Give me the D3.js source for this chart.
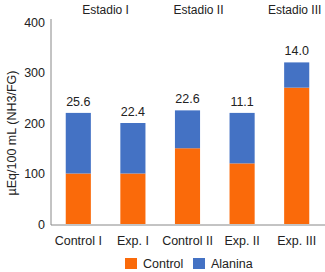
<!DOCTYPE html>
<html>
<head>
<meta charset="utf-8">
<script src="https://cdn.jsdelivr.net/npm/d3@7"></script>
<style>
	body { margin: 0; background: #fff; }
	text { font-family: "Liberation Sans", Arial, sans-serif; fill: #222; }
</style>
</head>
<body>
<div id="chart"></div>
<script>
var categories = ["Control I", "Exp. I", "Control II", "Exp. II", "Exp. III"];
var controlValues = [100, 100, 150, 120, 270];
var alaninaValues = [120, 100, 75, 100, 50];
var topLabels = ["25.6", "22.4", "22.6", "11.1", "14.0"];
var stages = ["Estadio I", "Estadio II", "Estadio III"];
var yTicks = [0, 100, 200, 300, 400];
var seriesNames = ["Control", "Alanina"];
var colors = ["#FA6A0A", "#4472C4"];

var width = 325, height = 272;
var svg = d3.select("#chart").append("svg")
	.attr("width", width)
	.attr("height", height);

var x = d3.scaleBand()
	.domain(categories)
	.range([51, 324])
	.paddingInner(0.54)
	.paddingOuter(0.27);

var y = d3.scaleLinear()
	.domain([0, 400])
	.range([224, 22]);

var rows = categories.map(function(c, i) {
	return { cat: c, Control: controlValues[i], Alanina: alaninaValues[i] };
});
var stack = d3.stack().keys(seriesNames)(rows);

// y axis
var yAxis = svg.append("g")
	.attr("transform", "translate(51,0)")
	.call(d3.axisLeft(y).tickValues(yTicks).tickSize(0).tickPadding(6));
yAxis.select(".domain").attr("stroke", "#888").attr("d", "M0,19V225");
yAxis.selectAll("text").style("font-size", "12.5px").attr("fill", "#222");

// x axis
var xAxis = svg.append("g")
	.attr("transform", "translate(0,225)")
	.call(d3.axisBottom(x).tickSize(0).tickPadding(11));
xAxis.select(".domain").attr("stroke", "#888").attr("d", "M51,0H325");
xAxis.selectAll("text").style("font-size", "12.5px").attr("fill", "#222");

// bars
svg.selectAll(".series")
	.data(stack)
	.enter().append("g")
	.attr("fill", function(d, i) { return colors[i]; })
	.selectAll("rect")
	.data(function(d) { return d; })
	.enter().append("rect")
	.attr("x", function(d) { return x(d.data.cat); })
	.attr("width", x.bandwidth())
	.attr("y", function(d) { return y(d[1]); })
	.attr("height", function(d) { return y(d[0]) - y(d[1]); });

// value labels
svg.selectAll(".val")
	.data(rows)
	.enter().append("text")
	.attr("x", function(d) { return x(d.cat) + x.bandwidth() / 2; })
	.attr("y", function(d) { return y(d.Control + d.Alanina) - 7; })
	.attr("text-anchor", "middle")
	.style("font-size", "12.5px")
	.text(function(d, i) { return topLabels[i]; });

// stage headers
var stageX = [
	(x(categories[0]) + x(categories[1]) + x.bandwidth()) / 2,
	x(categories[2]) + x.bandwidth() / 2 + 11,
	x(categories[4]) + x.bandwidth() / 2 - 2
];
svg.selectAll(".stage")
	.data(stages)
	.enter().append("text")
	.attr("x", function(d, i) { return stageX[i]; })
	.attr("y", 14)
	.attr("text-anchor", "middle")
	.style("font-size", "12px")
	.text(function(d) { return d; });

// y label
svg.append("text")
	.attr("transform", "translate(16,133) rotate(-90)")
	.attr("text-anchor", "middle")
	.style("font-size", "12.5px")
	.text("µEq/100 mL (NH3/FG)");

// legend
var legendX = [125, 193];
var legend = svg.selectAll(".legend")
	.data(seriesNames)
	.enter().append("g")
	.attr("transform", function(d, i) { return "translate(" + legendX[i] + ",258)"; });
legend.append("rect")
	.attr("width", 12)
	.attr("height", 11)
	.attr("fill", function(d, i) { return colors[i]; });
legend.append("text")
	.attr("x", 18)
	.attr("y", 10)
	.style("font-size", "12.5px")
	.text(function(d) { return d; });
</script>
</body>
</html>
